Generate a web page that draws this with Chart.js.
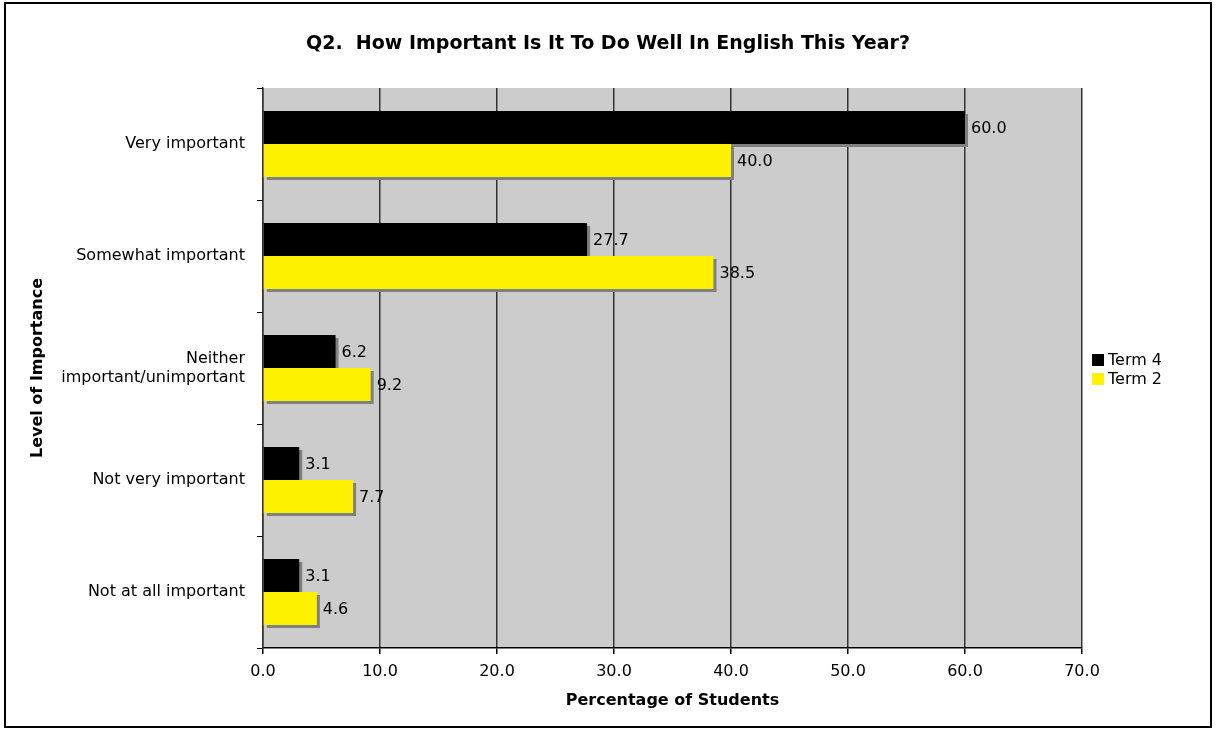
<!DOCTYPE html>
<html>
<head>
<meta charset="utf-8">
<script src="https://cdn.jsdelivr.net/npm/chart.js@4.4.1/dist/chart.umd.min.js"></script>
<style>
  body { margin: 0; background: #fff; }
  .wrap { position: relative; width: 1216px; height: 733px; overflow: hidden; }
  .wrap canvas { position: absolute; left: 0; top: 0; }
  .frame { position: absolute; left: 4px; top: 2px; width: 1204px; height: 722px; border: 2px solid #000; pointer-events: none; }
  .title { position: absolute; left: 0; top: 31px; width: 1216px; text-align: center; font: bold 19px "DejaVu Sans"; line-height: 23px; white-space: pre; }
  .legend { position: absolute; left: 1092px; top: 350px; font: 16px "DejaVu Sans"; }
  .legend div { height: 19px; line-height: 19px; white-space: nowrap; }
  .legend span { display: inline-block; width: 12px; height: 12px; margin-right: 4px; vertical-align: -1px; }
</style>
</head>
<body>
<div class="wrap">
  <canvas id="chart" width="1216" height="733"></canvas>
  <div class="title">Q2.  How Important Is It To Do Well In English This Year?</div>
  <div class="legend" id="legend"></div>
  <div class="frame"></div>
</div>
<script>
// data
const categories = [
  "Very important",
  "Somewhat important",
  ["Neither", "important/unimportant"],
  "Not very important",
  "Not at all important",
];
const term4 = [60.0, 27.7, 6.2, 3.1, 3.1];
const term2 = [40.0, 38.5, 9.2, 7.7, 4.6];
const seriesNames = ["Term 4", "Term 2"];
const seriesColors = ["#000000", "#fff200"];
const xMax = 70;
const xStep = 10;

const FONT = "DejaVu Sans";

// grey plot background
const plotBg = {
  id: "plotBg",
  beforeDraw(chart) {
    const { ctx, chartArea: a } = chart;
    ctx.save();
    ctx.fillStyle = "#cccccc";
    ctx.fillRect(a.left, a.top, a.right - a.left, a.bottom - a.top);
    ctx.restore();
  },
};

// grey drop shadow behind each bar
const barShadow = {
  id: "barShadow",
  beforeDatasetsDraw(chart) {
    const ctx = chart.ctx;
    ctx.save();
    ctx.fillStyle = "#808080";
    chart.data.datasets.forEach((ds, i) => {
      chart.getDatasetMeta(i).data.forEach((bar) => {
        const p = bar.getProps(["x", "y", "base", "height"], true);
        const left = Math.min(p.x, p.base);
        ctx.fillRect(left + 3, p.y - p.height / 2 + 3, Math.abs(p.x - p.base), p.height);
      });
    });
    ctx.restore();
  },
};

// value labels at the end of the bars
const barLabels = {
  id: "barLabels",
  afterDatasetsDraw(chart) {
    const ctx = chart.ctx;
    ctx.save();
    ctx.font = "16px " + FONT;
    ctx.fillStyle = "#000";
    ctx.textAlign = "left";
    ctx.textBaseline = "middle";
    chart.data.datasets.forEach((ds, i) => {
      chart.getDatasetMeta(i).data.forEach((bar, j) => {
        ctx.fillText(ds.data[j].toFixed(1), bar.x + 6, bar.y + 1);
      });
    });
    ctx.restore();
  },
};

const ctx = document.getElementById("chart");

const myChart = new Chart(ctx, {
  type: "bar",
  data: {
    labels: categories,
    datasets: [
      {
        label: seriesNames[0],
        data: term4,
        backgroundColor: seriesColors[0],
        categoryPercentage: 0.59,
        barPercentage: 1.0,
      },
      {
        label: seriesNames[1],
        data: term2,
        backgroundColor: seriesColors[1],
        categoryPercentage: 0.59,
        barPercentage: 1.0,
      },
    ],
  },
  options: {
    indexAxis: "y",
    responsive: false,
    animation: false,
    devicePixelRatio: 1,
    layout: {
      padding: { top: 88, right: 134, bottom: 0, left: 0 },
    },
    plugins: {
      legend: { display: false },
      title: { display: false },
      tooltip: { enabled: false },
    },
    scales: {
      x: {
        min: 0,
        max: xMax,
        afterFit: (scale) => {
          scale.height = 85;
        },
        ticks: {
          stepSize: xStep,
          color: "#000",
          font: { family: FONT, size: 16 },
          padding: 8,
          callback: (v) => Number(v).toFixed(1),
        },
        grid: {
          color: "#333",
          lineWidth: 1.5,
          tickColor: "#000",
          tickLength: 6,
        },
        border: { color: "#000", width: 1.5 },
        title: {
          display: true,
          text: "Percentage of Students",
          color: "#000",
          font: { family: FONT, size: 16, weight: "bold" },
          padding: { top: 0, bottom: 23 },
        },
      },
      y: {
        afterFit: (scale) => {
          scale.width = 263;
        },
        ticks: {
          color: "#000",
          font: { family: FONT, size: 16 },
          padding: 12,
        },
        grid: {
          offset: true,
          drawOnChartArea: false,
          tickColor: "#000",
          tickLength: 6,
        },
        border: { color: "#333", width: 1.5 },
        title: {
          display: true,
          text: "Level of Importance",
          color: "#000",
          font: { family: FONT, size: 16, weight: "bold" },
          padding: { top: 28, bottom: 0 },
        },
      },
    },
  },
  plugins: [plotBg, barShadow, barLabels],
});

// legend built from the datasets
const legendBox = document.getElementById("legend");
myChart.data.datasets.forEach((ds) => {
  const row = document.createElement("div");
  row.innerHTML = '<span style="background:' + ds.backgroundColor + '"></span>' + ds.label;
  legendBox.appendChild(row);
});
</script>
</body>
</html>
